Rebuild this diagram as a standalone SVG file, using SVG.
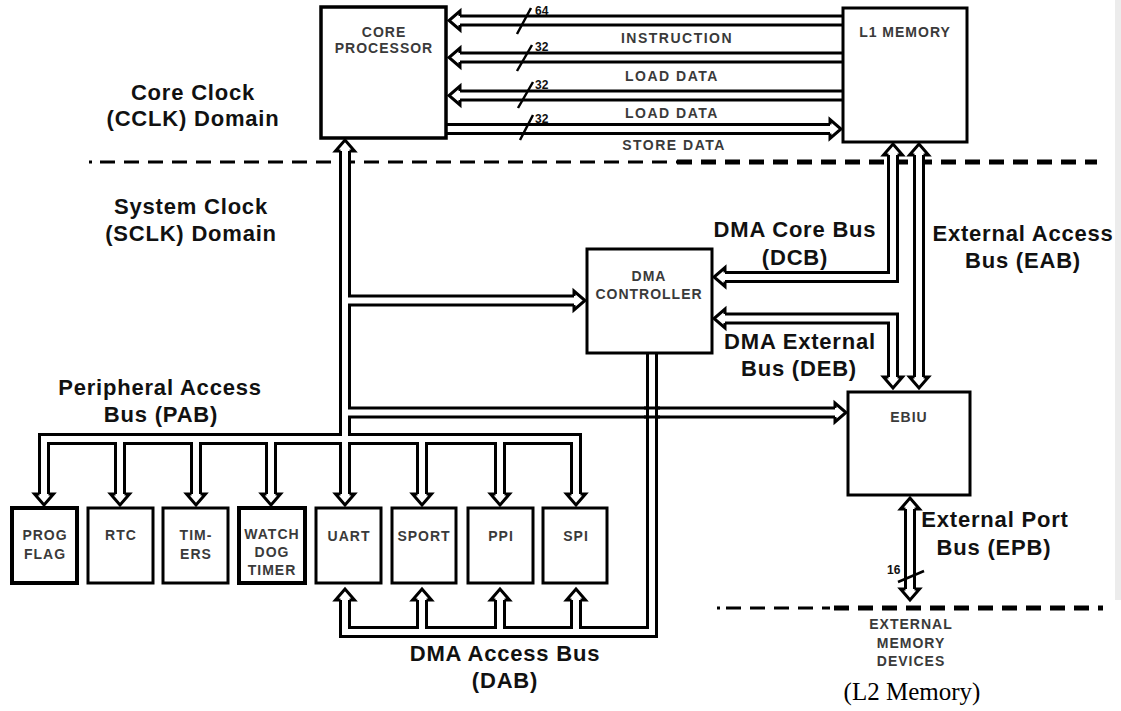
<svg xmlns="http://www.w3.org/2000/svg" xmlns:xlink="http://www.w3.org/1999/xlink" width="1121" height="711" viewBox="0 0 1121 711">
<style>
.box{fill:#fff;stroke:#000;stroke-width:3}
.bk{fill:none;stroke:#000;stroke-width:12;stroke-linejoin:miter;stroke-linecap:butt}
.wh{fill:none;stroke:#fff;stroke-width:6;stroke-linejoin:miter;stroke-linecap:butt}
.ah{fill:#fff;stroke:#000;stroke-width:3;stroke-linejoin:miter;stroke-miterlimit:10}
.thin{fill:none;stroke:#000;stroke-width:3}
.slash{fill:none;stroke:#000;stroke-width:2.5}
.dash1{fill:none;stroke:#000;stroke-width:3;stroke-dasharray:15 9}
.dash2{fill:none;stroke:#000;stroke-width:5;stroke-dasharray:15 9}
.big{font-family:"Liberation Sans",Arial,sans-serif;font-weight:bold;font-size:22px;letter-spacing:0.8px;fill:#111;text-anchor:middle}
.lbl{font-family:"Liberation Sans",Arial,sans-serif;font-weight:bold;font-size:14px;letter-spacing:1px;fill:#3a3a3a;text-anchor:middle}
.num{font-family:"Liberation Sans",Arial,sans-serif;font-weight:bold;font-size:12px;fill:#111}
.serif{font-family:"Liberation Serif","Times New Roman",serif;font-size:25px;fill:#000;text-anchor:middle}
</style>
<defs>
<path id="ah" class="ah" d="M-4.5,-13 L-9.5,-13 L0,-2 L9.5,-13 L4.5,-13"/>
</defs>
<rect x="0" y="0" width="1121" height="711" fill="#fff"/>
<rect x="1115" y="0" width="6" height="600" fill="#ececec"/>

<g id="domain-lines">
<rect x="89" y="160.5" width="3" height="3" fill="#000"/>
<path class="dash1" d="M100,162 H677"/>
<path class="dash2" d="M677,162 H1097"/>
<rect x="717" y="606.5" width="3" height="3" fill="#000"/>
<path class="dash1" d="M726,608 H830"/>
<path class="dash2" d="M834,608 H1103"/>
</g>

<g id="domain-labels">
<text class="big" x="193" y="100">Core Clock</text>
<text class="big" x="193" y="126">(CCLK) Domain</text>
<text class="big" x="191" y="214">System Clock</text>
<text class="big" x="191" y="241">(SCLK) Domain</text>
</g>

<g id="connectors">
<!-- top buses core <-> L1 -->
<path class="bk" d="M843,20.5 H460 M843,57.5 H460 M843,95.5 H460 M446,129 H830"/>
<path class="wh" d="M843,20.5 H460 M843,57.5 H460 M843,95.5 H460 M446,129 H830"/>
<use href="#ah" transform="translate(447,20.5) rotate(90)"/>
<use href="#ah" transform="translate(447,57.5) rotate(90)"/>
<use href="#ah" transform="translate(447,95.5) rotate(90)"/>
<use href="#ah" transform="translate(843,129) rotate(-90)"/>
<path class="slash" d="M517,34 L531,8 M517,71 L532,45 M518,108 L533,82 M520,140 L533,115"/>
<text class="num" x="535" y="15">64</text>
<text class="num" x="535" y="51">32</text>
<text class="num" x="535" y="89">32</text>
<text class="num" x="535" y="123">32</text>
<text class="lbl" x="677" y="43" style="letter-spacing:1.5px">INSTRUCTION</text>
<text class="lbl" x="672" y="81" style="letter-spacing:1.5px">LOAD DATA</text>
<text class="lbl" x="672" y="118" style="letter-spacing:1.5px">LOAD DATA</text>
<text class="lbl" x="674" y="150" style="letter-spacing:1.5px">STORE DATA</text>

<!-- trunk / PAB tree -->
<path class="bk" d="M345,151 V494 M345,300.5 H574 M345,412.5 H835 M345,439 H44 V494 M120,439 V494 M196,439 V494 M271,439 V494 M345,439 H576 V494 M422,439 V494 M500,439 V494"/>
<path class="wh" d="M345,151 V494 M345,300.5 H574 M345,412.5 H835 M345,439 H44 V494 M120,439 V494 M196,439 V494 M271,439 V494 M345,439 H576 V494 M422,439 V494 M500,439 V494"/>
<use href="#ah" transform="translate(345,138) rotate(180)"/>
<use href="#ah" transform="translate(587,300.5) rotate(-90)"/>
<use href="#ah" transform="translate(848,412.5) rotate(-90)"/>
<use href="#ah" transform="translate(44,507)"/>
<use href="#ah" transform="translate(120,507)"/>
<use href="#ah" transform="translate(196,507)"/>
<use href="#ah" transform="translate(271,507)"/>
<use href="#ah" transform="translate(345,507)"/>
<use href="#ah" transform="translate(422,507)"/>
<use href="#ah" transform="translate(500,507)"/>
<use href="#ah" transform="translate(576,507)"/>

<!-- DAB tree -->
<path class="bk" d="M652,354 V632 H345 V600 M422,632 V600 M500,632 V600 M576,632 V600"/>
<path class="wh" d="M652,354 V632 H345 V600 M422,632 V600 M500,632 V600 M576,632 V600"/>
<path class="thin" d="M644,408 H660 M644,417 H660"/>
<use href="#ah" transform="translate(345,587) rotate(180)"/>
<use href="#ah" transform="translate(422,587) rotate(180)"/>
<use href="#ah" transform="translate(500,587) rotate(180)"/>
<use href="#ah" transform="translate(576,587) rotate(180)"/>

<!-- DCB, EAB, DEB -->
<path class="bk" d="M893,155 V277 H725 M919,155 V377 M725,318.5 H893 V377"/>
<path class="wh" d="M893,155 V277 H725 M919,155 V377 M725,318.5 H893 V377"/>
<use href="#ah" transform="translate(893,142) rotate(180)"/>
<use href="#ah" transform="translate(919,142) rotate(180)"/>
<use href="#ah" transform="translate(712,277) rotate(90)"/>
<use href="#ah" transform="translate(712,318.5) rotate(90)"/>
<use href="#ah" transform="translate(893,390)"/>
<use href="#ah" transform="translate(919,390)"/>

<!-- EPB -->
<path class="bk" d="M910,509 V589"/>
<path class="wh" d="M910,509 V589"/>
<use href="#ah" transform="translate(910,496) rotate(180)"/>
<use href="#ah" transform="translate(910,602)"/>
<path class="slash" d="M898,582 L924,571"/>
<text class="num" x="887" y="574">16</text>
</g>

<g id="bus-labels">
<text class="big" x="795" y="237">DMA Core Bus</text>
<text class="big" x="795" y="265">(DCB)</text>
<text class="big" x="1023" y="241">External Access</text>
<text class="big" x="1023" y="268">Bus (EAB)</text>
<text class="big" x="800" y="349">DMA External</text>
<text class="big" x="799" y="376">Bus (DEB)</text>
<text class="big" x="160" y="395">Peripheral Access</text>
<text class="big" x="161" y="422">Bus (PAB)</text>
<text class="big" x="995" y="527">External Port</text>
<text class="big" x="994" y="555">Bus (EPB)</text>
<text class="big" x="505" y="661">DMA Access Bus</text>
<text class="big" x="505" y="688">(DAB)</text>
</g>

<g id="core"><rect class="box" x="321" y="7" width="125" height="131" style="stroke-width:3.5"/>
<text class="lbl" x="384" y="37">CORE</text><text class="lbl" x="384" y="53">PROCESSOR</text></g>
<g id="l1"><rect class="box" x="843" y="8" width="124" height="134"/>
<text class="lbl" x="905" y="37">L1 MEMORY</text></g>
<g id="dma"><rect class="box" x="587" y="249" width="125" height="104"/>
<text class="lbl" x="649" y="281">DMA</text><text class="lbl" x="649" y="299">CONTROLLER</text></g>
<g id="ebiu"><rect class="box" x="848" y="392" width="122" height="103"/>
<text class="lbl" x="909" y="422">EBIU</text></g>

<g id="prog"><rect class="box" x="12" y="508" width="65" height="75" style="stroke-width:4"/>
<text class="lbl" x="45" y="540">PROG</text><text class="lbl" x="45" y="559">FLAG</text></g>
<g id="rtc"><rect class="box" x="88" y="508" width="65" height="75"/>
<text class="lbl" x="121" y="540">RTC</text></g>
<g id="timers"><rect class="box" x="163" y="508" width="65" height="75"/>
<text class="lbl" x="196" y="540">TIM-</text><text class="lbl" x="196" y="559">ERS</text></g>
<g id="watchdog"><rect class="box" x="239" y="508" width="66" height="75" style="stroke-width:4"/>
<text class="lbl" x="272" y="539">WATCH</text><text class="lbl" x="272" y="557">DOG</text><text class="lbl" x="272" y="575">TIMER</text></g>
<g id="uart"><rect class="box" x="316" y="508" width="65" height="75"/>
<text class="lbl" x="349" y="541">UART</text></g>
<g id="sport"><rect class="box" x="392" y="508" width="64" height="75"/>
<text class="lbl" x="424" y="541">SPORT</text></g>
<g id="ppi"><rect class="box" x="468" y="508" width="65" height="75"/>
<text class="lbl" x="501" y="541">PPI</text></g>
<g id="spi"><rect class="box" x="543" y="508" width="64" height="75"/>
<text class="lbl" x="576" y="541">SPI</text></g>

<g id="extmem">
<text class="lbl" x="911" y="629">EXTERNAL</text>
<text class="lbl" x="911" y="648">MEMORY</text>
<text class="lbl" x="911" y="666">DEVICES</text>
<text class="serif" x="912" y="700">(L2 Memory)</text>
</g>
</svg>
